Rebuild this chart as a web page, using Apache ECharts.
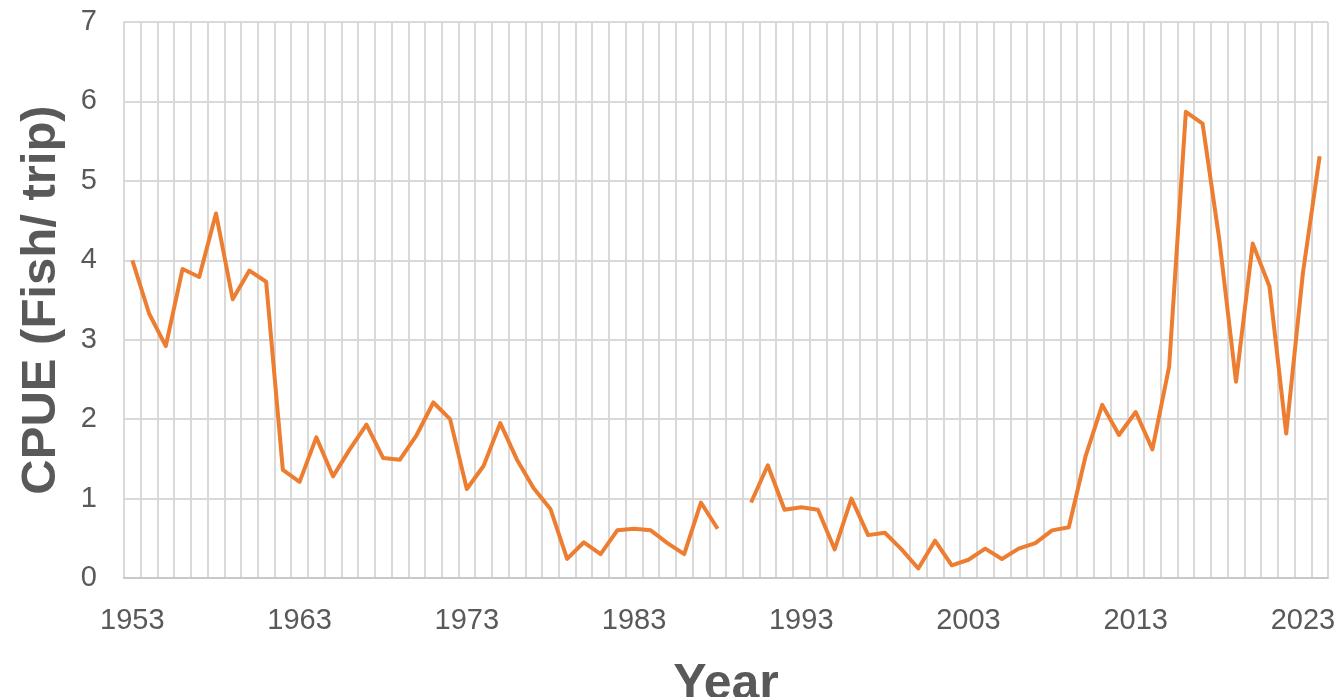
<!DOCTYPE html>
<html>
<head>
<meta charset="utf-8">
<script src="https://cdn.jsdelivr.net/npm/echarts@6/dist/echarts.min.js"></script>
<style>
  html, body { margin: 0; padding: 0; background: #fff; }
  #chart { width: 1340px; height: 697px; }
</style>
</head>
<body>
<div id="chart"></div>
<script>
// years 1953..2024, one value per year (1989 missing)
var years = [];
for (var y = 1953; y <= 2024; y++) years.push(String(y));

var cpue = [
  4.00, 3.33, 2.92, 3.89, 3.79, 4.59, 3.51, 3.87, 3.73, 1.36,   // 1953-1962
  1.21, 1.77, 1.28, 1.62, 1.93, 1.51, 1.49, 1.80, 2.21, 2.00,   // 1963-1972
  1.12, 1.41, 1.95, 1.49, 1.13, 0.87, 0.24, 0.45, 0.30, 0.60,   // 1973-1982
  0.62, 0.60, 0.44, 0.30, 0.95, 0.62, null, 0.95, 1.42, 0.86,   // 1983-1992
  0.89, 0.86, 0.36, 1.00, 0.54, 0.57, 0.36, 0.12, 0.47, 0.16,   // 1993-2002
  0.23, 0.37, 0.24, 0.37, 0.44, 0.60, 0.64, 1.53, 2.18, 1.80,   // 2003-2012
  2.09, 1.62, 2.66, 5.87, 5.72, 4.26, 2.47, 4.21, 3.67, 1.82,   // 2013-2022
  3.84, 5.31                                                    // 2023-2024
];

var textColor = '#595959';
var gridColor = '#d9d9d9';

var myChart = echarts.init(document.getElementById('chart'));
var option = {
  backgroundColor: '#ffffff',
  animation: false,
  grid: {
    left: 124,
    right: 12,
    top: 22,
    bottom: 119,
    containLabel: false,
    outerBoundsMode: 'none'
  },
  xAxis: {
    type: 'category',
    data: years,
    boundaryGap: true,
    name: 'Year',
    nameLocation: 'middle',
    nameGap: 82,
    nameTextStyle: {
      color: textColor,
      fontSize: 50,
      fontWeight: 'bold',
      fontFamily: 'Liberation Sans'
    },
    axisLine: { show: true, lineStyle: { color: '#c8c8c8', width: 2 } },
    axisTick: { show: false },
    axisLabel: {
      interval: 9,
      margin: 28,
      color: textColor,
      fontSize: 29,
      fontFamily: 'Liberation Sans'
    },
    splitLine: {
      show: true,
      interval: 0,
      lineStyle: { color: gridColor, width: 2 }
    }
  },
  yAxis: {
    type: 'value',
    min: 0,
    max: 7,
    interval: 1,
    name: 'CPUE (Fish/ trip)',
    nameLocation: 'middle',
    nameGap: 58,
    nameTextStyle: {
      color: textColor,
      fontSize: 49,
      fontWeight: 'bold',
      fontFamily: 'Liberation Sans'
    },
    axisLine: { show: true, lineStyle: { color: gridColor, width: 2 } },
    axisTick: { show: false },
    axisLabel: {
      margin: 27,
      color: textColor,
      fontSize: 29,
      fontFamily: 'Liberation Sans'
    },
    splitLine: {
      show: true,
      lineStyle: { color: gridColor, width: 2 }
    }
  },
  series: [
    {
      name: 'CPUE',
      type: 'line',
      data: cpue,
      connectNulls: false,
      showSymbol: false,
      symbol: 'none',
      lineStyle: { color: '#ED7D31', width: 4, join: 'round' },
      itemStyle: { color: '#ED7D31' }
    }
  ]
};
myChart.setOption(option);
</script>
</body>
</html>
